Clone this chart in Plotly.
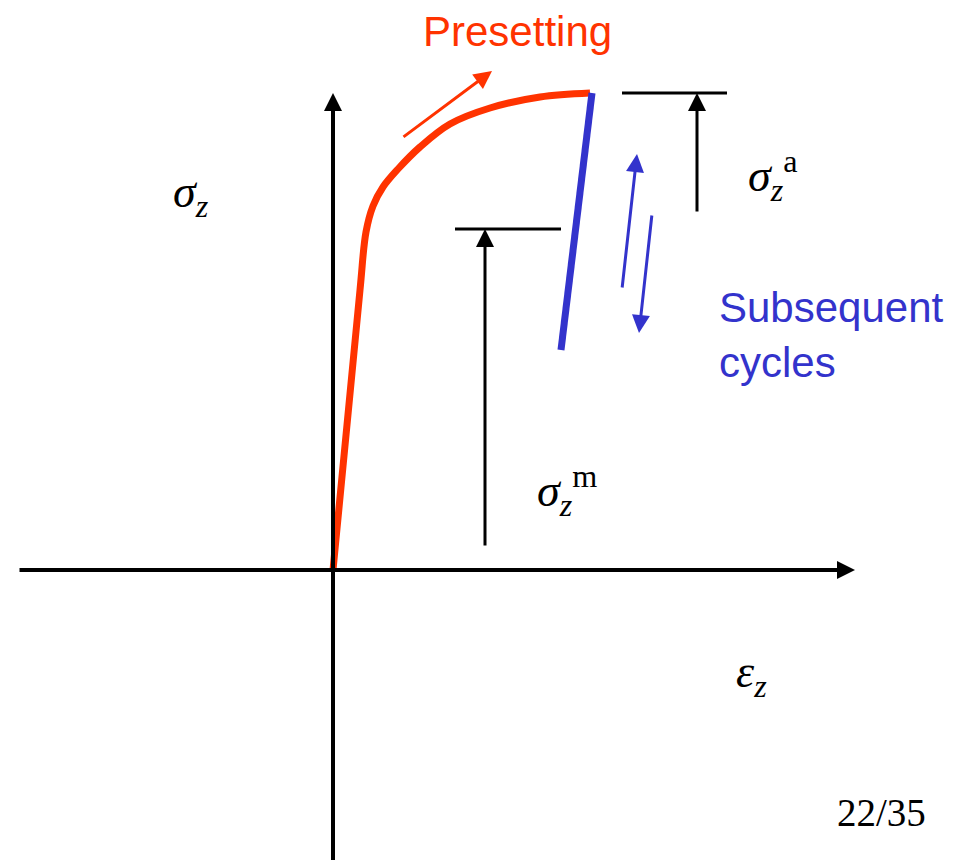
import plotly.graph_objects as go

# Data (arbitrary strain / stress units, origin at the axes crossing)
preset_strain = [0, 27, 33, 40, 50, 65, 87, 117, 157, 207, 257]
preset_stress = [0, 280, 338, 364, 383, 401, 423, 446, 462, 473, 477]

cycle_strain = [259, 228]
cycle_stress = [477, 220]

mean_stress = 341
amp_top = 477
amp_bottom = 357

mean_bar_strain = [122, 228]
amp_bar_strain = [289, 394]

RED = "rgb(255,51,0)"
BLUE = "rgb(51,51,204)"
SERIF = "Liberation Serif, Times New Roman, serif"
SANS = "Liberation Sans, Arial, sans-serif"

fig = go.Figure()

fig.add_trace(go.Scatter(
    x=preset_strain, y=preset_stress, mode="lines",
    line=dict(color=RED, width=7, shape="spline", smoothing=1.0),
    hoverinfo="skip",
))
fig.add_trace(go.Scatter(
    x=cycle_strain, y=cycle_stress, mode="lines",
    line=dict(color=BLUE, width=7), hoverinfo="skip",
))
fig.add_trace(go.Scatter(
    x=mean_bar_strain, y=[mean_stress, mean_stress], mode="lines",
    line=dict(color="black", width=3), hoverinfo="skip",
))
fig.add_trace(go.Scatter(
    x=amp_bar_strain, y=[amp_top, amp_top], mode="lines",
    line=dict(color="black", width=3), hoverinfo="skip",
))


def arrow(x0, y0, x1, y1, color, width, size=1.0):
    fig.add_annotation(
        x=x1, y=y1, ax=x0, ay=y0, xref="x", yref="y", axref="x", ayref="y",
        text="", showarrow=True, arrowhead=2, arrowsize=size,
        arrowwidth=width, arrowcolor=color,
    )


# axes
arrow(-315, 0, 522, 0, "black", 4, 0.9)
arrow(0, -300, 0, 477, "black", 4, 0.9)
# presetting direction
arrow(69, 432, 159, 499, RED, 3, 1.2)
# cycle directions
arrow(289, 281, 304, 416, BLUE, 3, 1.2)
arrow(319, 356, 306, 237, BLUE, 3, 1.2)
# mean and amplitude markers
arrow(152, 23, 152, mean_stress, "black", 3, 1.2)
arrow(364, amp_bottom, 364, amp_top, "black", 3, 1.2)


def label(x, y, text, font, size, color="black", xanchor="left", yanchor="middle"):
    fig.add_annotation(
        x=x, y=y, xref="x", yref="y", text=text, showarrow=False,
        xanchor=xanchor, yanchor=yanchor, align="left",
        font=dict(family=font, size=size, color=color),
    )


label(184, 539, "Presetting", SANS, 42, RED, xanchor="center")
label(384, 235, "Subsequent<br>cycles", SANS, 42, BLUE)
label(-162, 375, "<i>σ<sub>z</sub></i>", SERIF, 46)
label(413, 395, "<i>σ<sub>z</sub></i><sup>a</sup>", SERIF, 46)
label(202, 80, "<i>σ<sub>z</sub></i><sup>m</sup>", SERIF, 46)
label(401, -105, "<i>ε<sub>z</sub></i>", SERIF, 46)
label(548, -242, "22/35", SERIF, 39, xanchor="center")

# the page body has an 8px margin, so the figure is 8px smaller on each axis
fig.update_layout(
    width=950, height=852,
    margin=dict(l=0, r=0, t=0, b=0),
    paper_bgcolor="white", plot_bgcolor="white",
    showlegend=False,
    xaxis=dict(range=[-325, 625], visible=False, fixedrange=True),
    yaxis=dict(range=[-290, 562], visible=False, fixedrange=True),
)

fig.write_html("out.html")
